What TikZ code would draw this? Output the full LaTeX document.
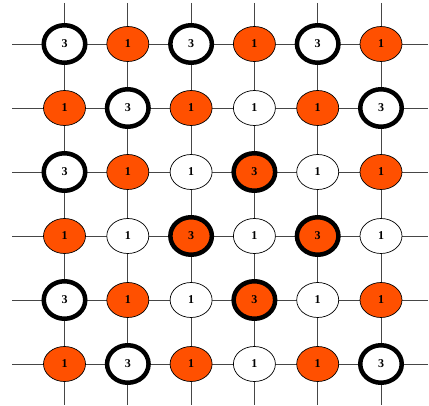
\documentclass[tikz,border=0pt]{standalone}
\usepackage{fontspec}
\setmainfont{Liberation Serif}
\usetikzlibrary{shapes.geometric}
\definecolor{nodeorange}{RGB}{255,80,0}
\definecolor{gridgray}{RGB}{70,70,70}
\begin{document}
\begin{tikzpicture}[x=1pt,y=-1pt,
  base/.style={ellipse, inner sep=0pt, font=\bfseries\fontsize{12}{12}\selectfont, text=black},
  thin/.style={base, draw=black, line width=0.7pt, minimum width=42pt, minimum height=35pt},
  thick/.style={base, draw=black, line width=4.5pt, minimum width=41.5pt, minimum height=37.5pt},
  ow/.style={fill=white},
  oo/.style={fill=nodeorange},
  gridline/.style={draw=gridgray, line width=0.9pt}]
\useasboundingbox (0,0) rectangle (429,406);
% grid coordinates
\foreach \i/\x in {1/64.5,2/127.8,3/191.1,4/254.4,5/317.7,6/381}{
  \coordinate (top\i) at (\x,3);
  \coordinate (bot\i) at (\x,405);
}
\foreach \j/\y in {1/44,2/108,3/172,4/236,5/300,6/364}{
  \coordinate (lft\j) at (12,\y);
  \coordinate (rgt\j) at (428,\y);
}
\foreach \i in {1,...,6}{
  \draw[gridline] (top\i) -- (bot\i);
  \draw[gridline] (lft\i) -- (rgt\i);
}
% nodes: row / column / kind / fill / label
\foreach \r/\c/\k/\f/\t in {
 1/1/thick/ow/3, 1/2/thin/oo/1, 1/3/thick/ow/3, 1/4/thin/oo/1, 1/5/thick/ow/3, 1/6/thin/oo/1,
 2/1/thin/oo/1, 2/2/thick/ow/3, 2/3/thin/oo/1, 2/4/thin/ow/1, 2/5/thin/oo/1, 2/6/thick/ow/3,
 3/1/thick/ow/3, 3/2/thin/oo/1, 3/3/thin/ow/1, 3/4/thick/oo/3, 3/5/thin/ow/1, 3/6/thin/oo/1,
 4/1/thin/oo/1, 4/2/thin/ow/1, 4/3/thick/oo/3, 4/4/thin/ow/1, 4/5/thick/oo/3, 4/6/thin/ow/1,
 5/1/thick/ow/3, 5/2/thin/oo/1, 5/3/thin/ow/1, 5/4/thick/oo/3, 5/5/thin/ow/1, 5/6/thin/oo/1,
 6/1/thin/oo/1, 6/2/thick/ow/3, 6/3/thin/oo/1, 6/4/thin/ow/1, 6/5/thin/oo/1, 6/6/thick/ow/3}{
  \path (top\c |- lft\r) node[\k,\f] (n\r\c) {\t};
}
\end{tikzpicture}
\end{document}
